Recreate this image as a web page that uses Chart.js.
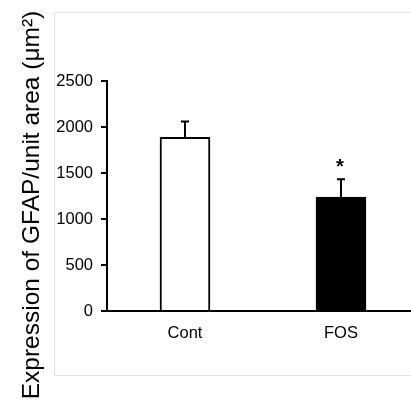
<!DOCTYPE html>
<html><head><meta charset="utf-8">
<script src="https://cdn.jsdelivr.net/npm/chart.js@4"></script>
<style>
html,body{margin:0;padding:0;background:#fff;overflow:hidden;width:411px;height:406px;}
#frame{position:absolute;left:54px;top:12px;width:500px;height:364px;border:1px solid #e2e2e2;box-sizing:border-box;}
#wrap{position:absolute;left:0;top:0;width:420px;height:406px;}
</style></head><body>
<div id="frame"></div>
<div id="wrap"><canvas id="c"></canvas></div>
<script>
const categories = ['Cont', 'FOS'];
const values = [1888, 1239];
const errors = [172, 192];
const significance = ['', '*'];
const yTicks = [0, 500, 1000, 1500, 2000, 2500];
const barFills = ['#ffffff', '#000000'];
const yTitle = 'Expression of GFAP/unit area (μm²)';

const FONT = "Arial, 'Liberation Sans', sans-serif";
Chart.defaults.font.family = FONT;
Chart.defaults.color = '#000';

const errorBarPlugin = {
  id: 'errorBars',
  afterDatasetsDraw(chart) {
    const ctx = chart.ctx;
    const yScale = chart.scales.y;
    const meta = chart.getDatasetMeta(0);
    ctx.save();
    ctx.strokeStyle = '#000';
    ctx.fillStyle = '#000';
    ctx.lineWidth = 2;
    meta.data.forEach((el, i) => {
      const x = Math.round(el.x);
      const yTop = yScale.getPixelForValue(values[i] + errors[i]);
      const yBar = yScale.getPixelForValue(values[i]);
      ctx.beginPath();
      ctx.moveTo(x, yBar);
      ctx.lineTo(x, yTop);
      ctx.moveTo(x - 4, yTop);
      ctx.lineTo(x + 4, yTop);
      ctx.stroke();
      if (significance[i]) {
        ctx.font = "bold 20px " + FONT;
        ctx.textAlign = 'center';
        ctx.textBaseline = 'middle';
        ctx.fillText(significance[i], x - 1, yTop - 12);
      }
    });
    ctx.restore();
  }
};

const yTitlePlugin = {
  id: 'yTitle',
  afterDraw(chart) {
    const ctx = chart.ctx;
    ctx.save();
    ctx.translate(32, 205);
    ctx.rotate(-Math.PI / 2);
    ctx.font = "24.5px " + FONT;
    ctx.fillStyle = '#000';
    ctx.textAlign = 'center';
    ctx.textBaseline = 'middle';
    ctx.fillText(yTitle, 0, 0);
    ctx.restore();
  }
};

new Chart(document.getElementById('c'), {
  type: 'bar',
  data: {
    labels: categories,
    datasets: [{
      data: values,
      backgroundColor: barFills,
      borderColor: '#000',
      borderWidth: 2,
      barThickness: 50
    }]
  },
  options: {
    responsive: true,
    maintainAspectRatio: false,
    animation: false,
    layout: { padding: { top: 81, right: 1, bottom: 0, left: 0 } },
    plugins: { legend: { display: false }, tooltip: { enabled: false } },
    scales: {
      x: {
        offset: true,
        grid: { display: false },
        border: { display: true, color: '#000', width: 2 },
        ticks: { color: '#000', font: { size: 16.5 }, padding: 5 },
        afterFit: s => { s.height = 95; }
      },
      y: {
        min: yTicks[0],
        max: yTicks[yTicks.length - 1],
        afterBuildTicks: s => { s.ticks = yTicks.map(v => ({ value: v })); },
        grid: { drawOnChartArea: false, color: '#000', lineWidth: 2, tickLength: 6 },
        border: { display: true, color: '#000', width: 2 },
        ticks: { color: '#000', font: { size: 16.5 }, padding: 8, callback: v => String(v) },
        afterFit: s => { s.width = 107; }
      }
    }
  },
  plugins: [errorBarPlugin, yTitlePlugin]
});
</script>
</body></html>
